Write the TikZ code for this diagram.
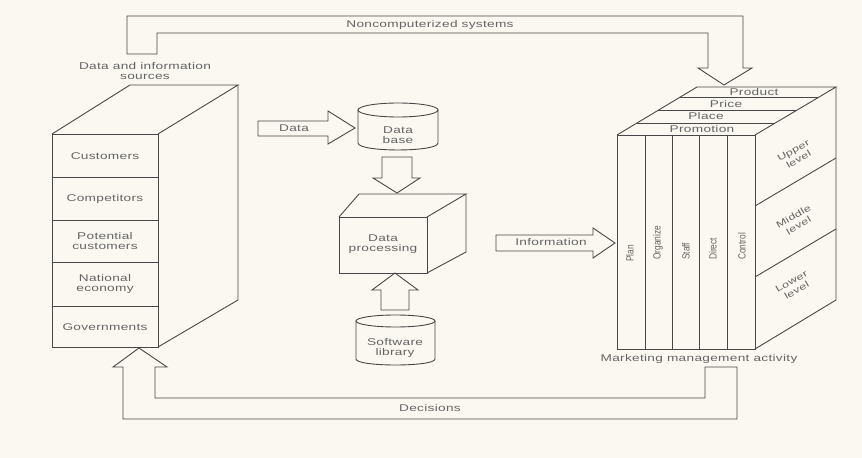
\documentclass[tikz,border=0pt]{standalone}
\usepackage{fontspec}
\newfontfamily\widefont[FakeStretch=1.4,LetterSpace=3]{Liberation Sans}
\newfontfamily\narrowfont[FakeStretch=0.8]{Liberation Sans}
\definecolor{paper}{RGB}{250,248,240}
\definecolor{ink}{RGB}{72,72,72}
\definecolor{inktext}{RGB}{100,100,100}
\begin{document}
\begin{tikzpicture}[x=1bp,y=-1bp,
  outline/.style={draw=ink, line width=0.9bp, line join=miter},
  lbl/.style={text=inktext, font=\widefont\fontsize{9.8}{10.5}\selectfont, align=center, inner sep=0pt},
  coltxt/.style={text=inktext, font=\narrowfont\fontsize{10.5}{10.5}\selectfont, rotate=90, anchor=west, inner sep=0pt},
  lvltxt/.style={lbl, font=\widefont\fontsize{9}{10.5}\selectfont, rotate=30}]

% page
\fill[paper] (0,0) rectangle (862,458);
\useasboundingbox (0,0) rectangle (862,458);

% ---------- data and information sources (left block) ----------
\draw[outline] (52,134) rectangle (158,347);
\draw[outline] (52,134) -- (130,85) -- (238,85) -- (158,134);
\draw[outline] (238,85) -- (238,300) -- (158,347);
\foreach \yy in {177,220,262,306} \draw[outline] (52,\yy) -- (158,\yy);
\node[lbl] (src)  at (145,71)  {Data and information\\sources};
\node[lbl] (cust) at (105,156) {Customers};
\node[lbl] (comp) at (105,199) {Competitors};
\node[lbl] (pot)  at (105,241) {Potential\\customers};
\node[lbl] (nat)  at (105,284) {National\\economy};
\node[lbl] (gov)  at (105,327) {Governments};

% ---------- data base cylinder ----------
\draw[outline] (398,110) ellipse [x radius=40bp, y radius=7bp];
\draw[outline] (358,110) -- (358,143) .. controls (358,152.3) and (438,152.3) .. (438,143) -- (438,110);
\node[lbl] (db) at (398,135) {Data\\base};

% ---------- data processing cube ----------
\draw[outline] (339,217) rectangle (427,273);
\draw[outline] (339,217) -- (359,194) -- (466,194) -- (427,217);
\draw[outline] (466,194) -- (466,252) -- (427,273);
\node[lbl] (dp) at (383,244) {Data\\processing};

% ---------- software library cylinder ----------
\draw[outline] (395.5,321) ellipse [x radius=39.5bp, y radius=6bp];
\draw[outline] (356,321) -- (356,359) .. controls (356,367) and (435,367) .. (435,359) -- (435,321);
\node[lbl] (sw) at (395,348) {Software\\library};

% ---------- marketing management activity (right block) ----------
\draw[outline] (617,135) rectangle (755,349);
\foreach \xx in {645,672,699,727} \draw[outline] (\xx,135) -- (\xx,349);
\draw[outline] (617,135) -- (697,87) -- (836,87) -- (755,135);
\draw[outline] (637,123) -- (775,123);
\draw[outline] (658,110) -- (797,110);
\draw[outline] (680,97) -- (819,97);
\draw[outline] (836,87) -- (836,300) -- (755,349);
\draw[outline] (755,206) -- (836,158);
\draw[outline] (755,277) -- (836,229);
\node[lbl] (prod)  at (754,92)  {Product};
\node[lbl] (price) at (726,104) {Price};
\node[lbl] (place) at (706,116) {Place};
\node[lbl] (promo) at (702,129) {Promotion};
\node[coltxt] (plan) at (630,262) {Plan};
\node[coltxt] (org)  at (658,260) {Organize};
\node[coltxt] (staff) at (686,260) {Staff};
\node[coltxt] (dir)  at (713,260) {Direct};
\node[coltxt] (ctl)  at (742,260) {Control};
\node[lvltxt] (up)  at (796,155) {Upper\\level};
\node[lvltxt] (mid) at (796,221) {Middle\\level};
\node[lvltxt] (low) at (794,286) {Lower\\level};
\node[lbl] (mma) at (699,359) {Marketing management activity};

% ---------- block arrows ----------
% data into the data base
\draw[outline] (258,121) -- (328,121) -- (328,111) -- (355,128) -- (328,144) -- (328,136) -- (258,136) -- cycle;
\node[lbl] (data) at (294,128) {Data};
% data base down to processing
\draw[outline] (382,157) -- (412,157) -- (412,178) -- (420,178) -- (397,193) -- (373,178) -- (382,178) -- cycle;
% software library up to processing
\draw[outline] (381,310) -- (409,310) -- (409,290) -- (418,290) -- (395,273) -- (372,290) -- (381,290) -- cycle;
% information to management
\draw[outline] (496,235) -- (593,235) -- (593,228) -- (615,243) -- (593,258) -- (593,251) -- (496,251) -- cycle;
\node[lbl] (info) at (551,242) {Information};

% noncomputerized systems (top loop)
\draw[outline] (127,54) -- (127,16) -- (743,16) -- (743,68) -- (752,68) -- (724,85)
  -- (698,68) -- (708,68) -- (708,33) -- (157,33) -- (157,54) -- cycle;
\node[lbl] (noncomp) at (430,25) {Noncomputerized systems};

% decisions (bottom loop)
\draw[outline] (139,348) -- (167,367) -- (155,367) -- (155,398) -- (705,398) -- (705,367)
  -- (737,367) -- (737,419) -- (123,419) -- (123,367) -- (113,367) -- cycle;
\node[lbl] (dec) at (430,408) {Decisions};
\end{tikzpicture}
\end{document}
